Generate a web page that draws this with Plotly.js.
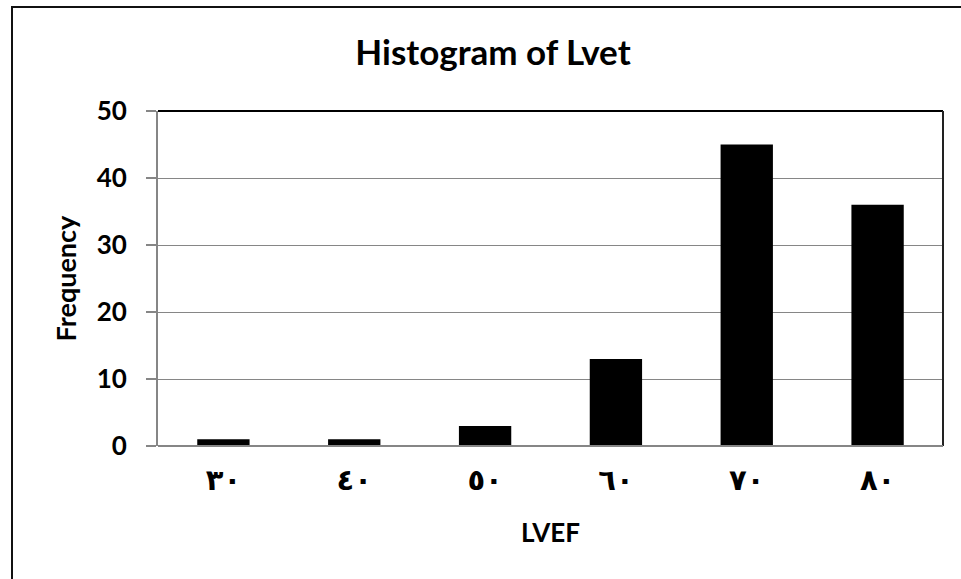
<!DOCTYPE html>
<html>
<head>
<meta charset="utf-8">
<script src="https://cdn.plot.ly/plotly-3.0.1.min.js"></script>
<style>
html,body{margin:0;padding:0;background:#fff;}
#wrap{position:relative;width:961px;height:579px;overflow:hidden;}
#chart{position:absolute;left:0;top:0;width:961px;height:579px;}
#frame{position:absolute;left:11px;top:6px;width:1000px;height:700px;border:2px solid #111;box-sizing:border-box;pointer-events:none;}
</style>
</head>
<body>
<div id="wrap"><div id="chart"></div><div id="frame"></div></div>
<script>
const categories = ["٣٠", "٤٠", "٥٠", "٦٠", "٧٠", "٨٠"];
const frequency = [1, 1, 3, 13, 45, 36];
const yTicks = [0, 10, 20, 30, 40, 50];

const FONT = "Lato, 'Open Sans', 'DejaVu Sans', sans-serif";

const data = [{
  type: "bar",
  x: categories,
  y: frequency,
  marker: {color: "#000000", line: {width: 0}},
  hoverinfo: "x+y"
}];

const layout = {
  width: 961, height: 579,
  margin: {l: 158, r: 18, t: 111, b: 133},
  paper_bgcolor: "rgba(0,0,0,0)",
  plot_bgcolor: "#ffffff",
  bargap: 0.6,
  showlegend: false,
  title: {
    text: "<b>Histogram of Lvet</b>",
    font: {family: FONT, size: 35, color: "#000"},
    x: 493/961, xref: "container", xanchor: "center",
    y: 1 - 53/579, yref: "container", yanchor: "middle"
  },
  xaxis: {
    type: "category",
    showgrid: false,
    showline: false,
    ticks: "",
    ticklabelstandoff: 14,
    tickfont: {family: "'DejaVu Sans', sans-serif", size: 29, color: "#000", weight: "bold"},
    title: {text: "<b>LVEF</b>", font: {family: FONT, size: 26, color: "#000"}, standoff: 27},
    fixedrange: true
  },
  yaxis: {
    range: [0, 50],
    tickvals: yTicks,
    ticktext: yTicks.map(String),
    showgrid: true,
    gridcolor: "#868686",
    gridwidth: 1,
    zeroline: false,
    showline: true,
    linecolor: "#868686",
    linewidth: 2,
    ticks: "outside",
    ticklen: 10,
    tickwidth: 2,
    tickcolor: "#868686",
    ticklabelstandoff: 14,
    tickfont: {family: FONT, size: 26, color: "#000", weight: "bold"},
    title: {text: "<b>Frequency</b>", font: {family: FONT, size: 27, color: "#000"}, standoff: 12},
    fixedrange: true
  },
  shapes: [
    {type: "line", xref: "paper", yref: "paper", x0: 0, x1: 1, y0: 1, y1: 1, line: {color: "#000", width: 2}},
    {type: "line", xref: "paper", yref: "paper", x0: 1, x1: 1, y0: 0, y1: 1, line: {color: "#222", width: 2}},
    {type: "line", xref: "paper", yref: "paper", x0: 0, x1: 1, y0: 0, y1: 0, line: {color: "#868686", width: 2}}
  ]
};

Plotly.newPlot("chart", data, layout, {displayModeBar: false, staticPlot: true});
</script>
</body>
</html>
